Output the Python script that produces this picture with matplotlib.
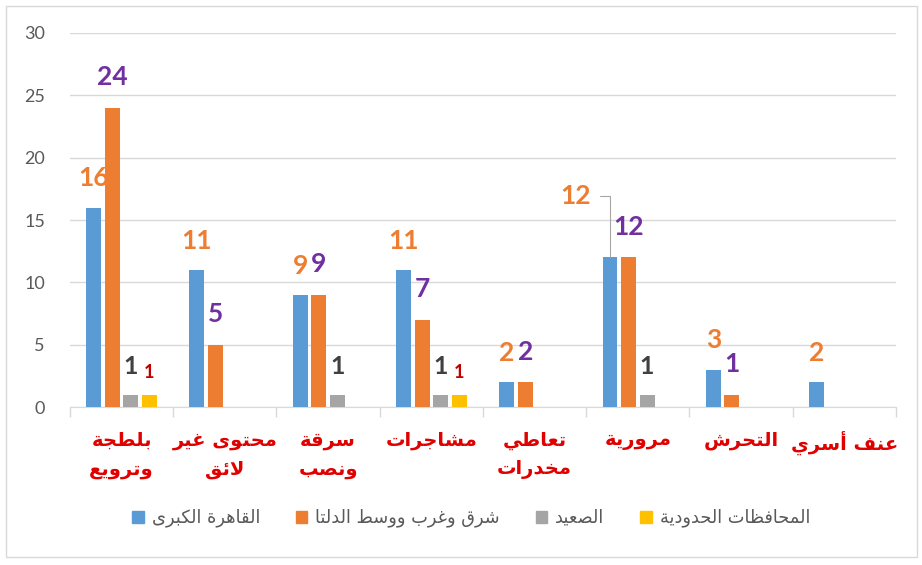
import matplotlib
matplotlib.use("Agg")
import matplotlib.pyplot as plt
from matplotlib.patches import Patch, Rectangle
import numpy as np

# Chart data (categories left to right, as in the picture)
categories = ["بلطجة\nوترويع", "محتوى غير\nلائق", "سرقة\nونصب", "مشاجرات",
              "تعاطي\nمخدرات", "مرورية", "التحرش", "عنف أسري"]
series_names = ["القاهرة الكبرى", "شرق وغرب ووسط الدلتا", "الصعيد", "المحافظات الحدودية"]
cairo = [16, 11, 9, 11, 2, 12, 3, 2]
delta = [24, 5, 9, 7, 2, 12, 1, 0]
upper_egypt = [1, 0, 1, 1, 0, 1, 0, 0]
border_gov = [1, 0, 0, 1, 0, 0, 0, 0]
y_ticks = [0, 5, 10, 15, 20, 25, 30]

bar_colors = ["#5B9BD5", "#ED7D31", "#A5A5A5", "#FFC000"]
label_colors = ["#ED7D31", "#7030A0", "#404040", "#C00000"]
label_sizes = [19, 19, 18, 13]
label_lift = [21, 22, 20, 16]  # points above the bar top

# --- minimal Arabic shaping (matplotlib has no text shaping) ---
# letter -> (first presentation-form code point, number of forms)
_forms = {
    "آ": (0xFE81, 2), "أ": (0xFE83, 2), "ؤ": (0xFE85, 2), "إ": (0xFE87, 2),
    "ئ": (0xFE89, 4), "ا": (0xFE8D, 2), "ب": (0xFE8F, 4), "ة": (0xFE93, 2),
    "ت": (0xFE95, 4), "ث": (0xFE99, 4), "ج": (0xFE9D, 4), "ح": (0xFEA1, 4),
    "خ": (0xFEA5, 4), "د": (0xFEA9, 2), "ذ": (0xFEAB, 2), "ر": (0xFEAD, 2),
    "ز": (0xFEAF, 2), "س": (0xFEB1, 4), "ش": (0xFEB5, 4), "ص": (0xFEB9, 4),
    "ض": (0xFEBD, 4), "ط": (0xFEC1, 4), "ظ": (0xFEC5, 4), "ع": (0xFEC9, 4),
    "غ": (0xFECD, 4), "ف": (0xFED1, 4), "ق": (0xFED5, 4), "ك": (0xFED9, 4),
    "ل": (0xFEDD, 4), "م": (0xFEE1, 4), "ن": (0xFEE5, 4), "ه": (0xFEE9, 4),
    "و": (0xFEED, 2), "ى": (0xFEEF, 2), "ي": (0xFEF1, 4),
}
_lam_alef = {"آ": 0xFEF5, "أ": 0xFEF7, "إ": 0xFEF9, "ا": 0xFEFB}


def shape_line(text):
    out = []
    i = 0
    n = len(text)
    while i < n:
        c = text[i]
        if c not in _forms:
            out.append(c)
            i += 1
            continue
        prev = text[i - 1] if i > 0 else None
        joins_prev = prev in _forms and _forms[prev][1] == 4
        if c == "ل" and i + 1 < n and text[i + 1] in _lam_alef:
            out.append(chr(_lam_alef[text[i + 1]] + (1 if joins_prev else 0)))
            i += 2
            continue
        start, count = _forms[c]
        nxt = text[i + 1] if i + 1 < n else None
        joins_next = count == 4 and nxt in _forms
        if joins_prev and joins_next:
            form = 3
        elif joins_prev:
            form = 1
        elif joins_next:
            form = 2
        else:
            form = 0
        out.append(chr(start + form))
        i += 1
    return "".join(out)[::-1]


def ar(text):
    return "\n".join(shape_line(line) for line in text.split("\n"))


# --- figure ---
fig = plt.figure(figsize=(9.22, 5.65), dpi=100)
ax = fig.add_axes([0.0759, 0.2796, 0.8959, 0.662])

all_series = [cairo, delta, upper_egypt, border_gov]
x = np.arange(len(categories))
step = 0.18
width = 0.145

# one label in the picture was dragged away and gets a leader line
moved_labels = {(0, 5): (-25, 44)}

for k, values in enumerate(all_series):
    pos = x + (k - 1.5) * step
    ax.bar(pos, values, width, color=bar_colors[k], zorder=3)
    for j, v in enumerate(values):
        if v == 0:
            continue
        if (k, j) in moved_labels:
            dx, dy = moved_labels[(k, j)]
            ax.annotate(str(v), xy=(pos[j], v), xytext=(dx, dy),
                        textcoords="offset points", ha="center", va="center",
                        fontsize=label_sizes[k], fontweight="bold",
                        color=label_colors[k], family="Lato",
                        arrowprops=dict(arrowstyle="-", color="#A6A6A6", lw=0.8,
                                        relpos=(1.0, 0.5), shrinkA=5, shrinkB=0,
                                        connectionstyle="angle,angleA=0,angleB=90,rad=0"))
        else:
            ax.annotate(str(v), xy=(pos[j], v), xytext=(0, label_lift[k]),
                        textcoords="offset points", ha="center", va="center",
                        fontsize=label_sizes[k], fontweight="bold",
                        color=label_colors[k], family="Lato")

ax.set_ylim(0, 30)
ax.set_xlim(-0.5, len(categories) - 0.5)
ax.set_yticks(y_ticks)
ax.set_yticklabels([str(t) for t in y_ticks], fontsize=13, color="#595959", family="Lato")
ax.tick_params(axis="y", length=0, pad=18)
ax.grid(axis="y", color="#D9D9D9", lw=1, zorder=0)

ax.set_xticks(x)
ax.set_xticklabels([ar(c) for c in categories], fontsize=14, fontweight="bold",
                   color="#E00000", family="DejaVu Sans", linespacing=1.65)
ax.set_xticks(np.arange(len(categories) + 1) - 0.5, minor=True)
ax.tick_params(axis="x", which="major", length=0, pad=17)
ax.tick_params(axis="x", which="minor", length=7, color="#D9D9D9", width=1)

for side in ["top", "right", "left"]:
    ax.spines[side].set_visible(False)
ax.spines["bottom"].set_color("#D9D9D9")

handles = [Patch(color=c) for c in bar_colors]
leg = fig.legend(handles, [ar(s) for s in series_names], loc="center",
                 bbox_to_anchor=(0.511, 0.083), ncol=4, frameon=False,
                 handlelength=0.65, handleheight=0.65,
                 handletextpad=0.45, columnspacing=2.0,
                 prop={"family": "DejaVu Sans", "size": 12.8})
for t in leg.get_texts():
    t.set_color("#595959")

fig.patches.append(Rectangle((0.0065, 0.014), 0.988, 0.975, transform=fig.transFigure,
                             fill=False, edgecolor="#D9D9D9", lw=1))

fig.savefig("out.png", dpi=100)
